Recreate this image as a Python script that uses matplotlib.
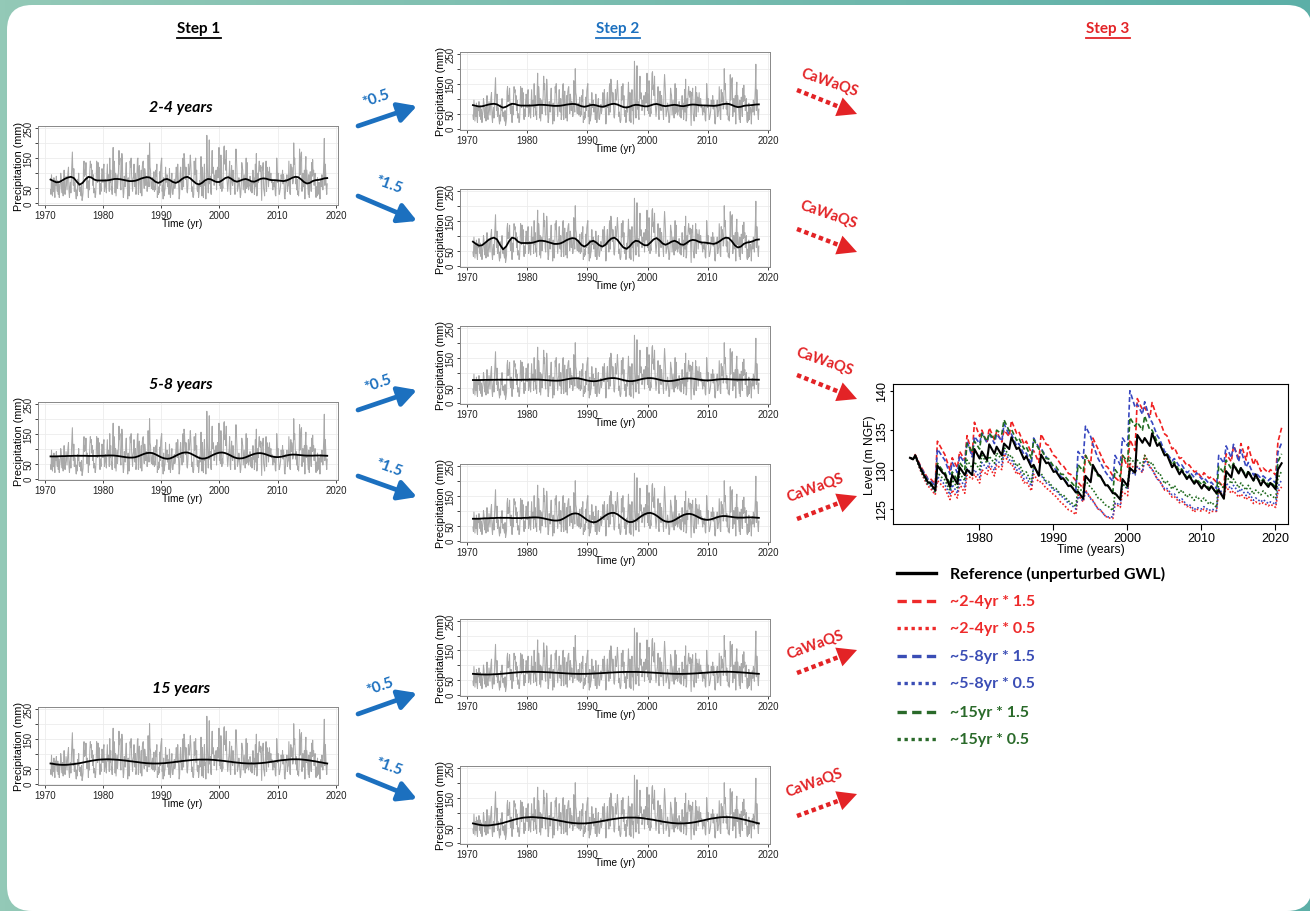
import numpy as np
import matplotlib
matplotlib.use("Agg")
import matplotlib.pyplot as plt
from matplotlib.patches import FancyBboxPatch
from matplotlib.colors import LinearSegmentedColormap

# ---- monthly precipitation (mm), Jan 1971 .. Jul 2018 ----
precip = [
    45, 30, 95, 60, 25, 70, 40, 85, 35, 20, 75, 60,
    90, 55, 40, 75, 30, 65, 20, 45, 60, 100, 85, 50,
    35, 70, 25, 60, 110, 40, 30, 55, 90, 65, 45, 80,
    105, 120, 40, 20, 55, 70, 35, 90, 130, 170, 95, 60,
    115, 40, 70, 55, 30, 15, 45, 25, 80, 60, 100, 45,
    40, 55, 35, 25, 60, 10, 20, 35, 125, 140, 90, 110,
    95, 135, 70, 50, 85, 60, 20, 75, 45, 110, 140, 120,
    130, 85, 110, 60, 95, 35, 50, 40, 20, 30, 75, 140,
    125, 70, 135, 80, 120, 45, 30, 65, 40, 90, 115, 105,
    70, 115, 130, 40, 55, 80, 60, 35, 85, 130, 75, 90,
    95, 40, 150, 70, 110, 45, 55, 30, 120, 185, 80, 140,
    115, 35, 100, 25, 60, 95, 50, 75, 110, 175, 130, 150,
    60, 45, 95, 165, 140, 50, 20, 35, 90, 70, 55, 110,
    135, 80, 75, 15, 85, 40, 25, 60, 140, 120, 150, 95,
    70, 40, 80, 90, 130, 60, 55, 100, 30, 45, 95, 145,
    150, 30, 100, 125, 85, 35, 40, 110, 25, 120, 135, 140,
    75, 50, 115, 100, 60, 90, 70, 40, 55, 160, 80, 55,
    200, 120, 110, 60, 50, 70, 85, 45, 60, 105, 40, 55,
    45, 110, 90, 130, 20, 40, 30, 55, 35, 105, 60, 125,
    140, 150, 40, 60, 15, 85, 25, 40, 50, 120, 70, 80,
    95, 55, 80, 70, 30, 115, 60, 20, 45, 80, 100, 35,
    30, 45, 70, 80, 50, 60, 90, 120, 100, 70, 130, 90,
    60, 15, 30, 95, 120, 70, 80, 45, 140, 150, 55, 165,
    150, 110, 80, 120, 95, 40, 35, 60, 130, 100, 95, 125,
    160, 130, 85, 40, 55, 25, 20, 30, 140, 95, 110, 150,
    70, 110, 45, 40, 60, 20, 35, 75, 55, 110, 155, 100,
    25, 120, 40, 20, 85, 130, 60, 70, 15, 80, 225, 130,
    70, 35, 95, 210, 65, 90, 40, 30, 130, 175, 100, 120,
    105, 60, 70, 95, 80, 110, 45, 90, 120, 85, 110, 185,
    60, 115, 50, 160, 110, 40, 65, 50, 120, 185, 190, 130,
    145, 110, 175, 95, 70, 40, 65, 85, 100, 140, 45, 30,
    90, 125, 70, 60, 110, 85, 70, 55, 30, 140, 180, 150,
    110, 40, 50, 60, 85, 70, 45, 20, 30, 65, 135, 120,
    110, 45, 70, 95, 60, 35, 80, 150, 50, 135, 55, 80,
    45, 55, 60, 90, 75, 40, 70, 35, 60, 110, 65, 85,
    30, 60, 130, 55, 165, 25, 35, 100, 70, 120, 140, 115,
    105, 125, 70, 10, 120, 110, 135, 50, 40, 25, 70, 95,
    140, 40, 120, 80, 105, 55, 85, 120, 75, 90, 100, 70,
    80, 65, 45, 70, 60, 55, 75, 30, 25, 70, 150, 115,
    70, 100, 60, 30, 35, 45, 60, 95, 85, 80, 110, 65,
    95, 75, 20, 15, 40, 80, 70, 95, 40, 55, 60, 140,
    90, 35, 30, 130, 90, 120, 105, 65, 75, 200, 130, 150,
    110, 65, 90, 45, 80, 30, 40, 25, 60, 180, 95, 140,
    165, 170, 40, 75, 100, 55, 60, 110, 15, 120, 155, 70,
    110, 85, 60, 30, 95, 20, 70, 105, 80, 40, 135, 90,
    145, 95, 110, 60, 85, 100, 30, 20, 55, 25, 85, 30,
    55, 70, 60, 15, 70, 80, 55, 95, 85, 45, 90, 140,
    215, 60, 130, 95, 50, 30, 65,
]

# ---- filtered components (mean + band), every half year 1971.0 .. 2018.5 ----
band_2_4 = [
    79, 74, 70, 71, 76, 82, 86, 88, 84, 72,
    62, 68, 80, 88, 86, 79, 76, 76, 76, 76,
    77, 79, 81, 81, 80, 78, 76, 74, 74, 75,
    78, 82, 85, 87, 86, 80, 72, 68, 72, 79,
    81, 77, 71, 68, 72, 80, 86, 88, 83, 74,
    66, 63, 68, 76, 81, 80, 75, 71, 71, 77,
    84, 87, 82, 75, 72, 75, 79, 81, 78, 73,
    72, 76, 81, 83, 82, 79, 77, 77, 76, 75,
    74, 76, 80, 85, 88, 87, 80, 71, 66, 68,
    74, 77, 78, 80, 83, 84,
]
band_5_8 = [
    74, 74, 74, 74.5, 75, 75, 75.5, 75.5, 76, 76,
    76, 76, 76, 75.5, 75.5, 75.5, 75.5, 76, 76, 76.5,
    77, 77, 76.5, 75.5, 74, 72.5, 71, 70, 70, 71,
    74, 78, 82, 85, 86, 85, 81, 76, 71, 67.5,
    66, 67, 71, 76, 81, 85, 87, 87, 84, 79,
    74, 69, 66.5, 67, 70, 75, 80, 84, 86.5, 87,
    85, 81, 76, 71, 68, 67, 68, 71, 75, 79,
    82.5, 84.5, 85, 83.5, 80.5, 77, 74, 72, 71.5, 72.5,
    74.5, 77, 79, 80, 80, 79, 78, 77, 76.5, 76.5,
    76.5, 77, 77, 77, 76.5, 76,
]
band_15 = [
    67, 65.5, 64, 63, 62.5, 62.5, 63, 64, 65, 66.5,
    68, 70, 72, 74, 76, 77.5, 79, 80, 80.5, 81,
    81, 80.5, 80, 79.5, 78.5, 77.5, 76.5, 75, 74, 72.5,
    71.5, 70, 69, 68, 67.5, 67, 67, 67, 67.5, 68,
    69, 70, 71, 72.5, 73.5, 75, 76, 77, 78, 79,
    79.5, 80, 80, 80, 80, 79.5, 79, 78, 77, 76,
    75, 73.5, 72.5, 71, 70, 69, 68, 67.5, 67, 67,
    67, 67.5, 68, 69, 70, 71.5, 73, 74.5, 76, 77.5,
    78.5, 79.5, 80.5, 81, 81, 81, 80.5, 79.5, 78.5, 77,
    75.5, 74, 72, 70.5, 68.5, 67,
]

# ---- groundwater level (m NGF): start, then (winter low, spring high) per year 1971..2020, end ----
gwl_years = list(range(1971, 2021))
gwl_ref = [131.5,
    131.3, 131.8, 130.2, 129.6, 128.4, 128.3, 127.4, 130.5, 129.6, 129.4,
    127.8, 129.3, 128.2, 130.3, 129.3, 130.0, 129.3, 132.6, 131.4, 132.3,
    131.2, 133.2, 132.0, 132.9, 131.8, 133.3, 132.6, 134.1, 132.6, 132.8,
    131.3, 131.7, 130.3, 130.6, 129.2, 131.9, 130.8, 130.9, 129.7, 129.8,
    128.8, 128.9, 127.9, 128.0, 127.1, 127.2, 126.3, 129.2, 128.4, 130.6,
    129.4, 129.2, 128.0, 128.0, 127.0, 127.0, 126.2, 128.8, 127.9, 130.2,
    129.6, 134.4, 133.4, 134.0, 133.0, 134.6, 133.0, 133.3, 131.8, 131.9,
    130.3, 130.7, 129.4, 129.9, 128.8, 129.2, 128.2, 128.6, 127.6, 128.1,
    127.4, 127.9, 127.0, 127.4, 126.3, 129.8, 129.0, 130.6, 129.5, 130.2,
    129.0, 129.7, 128.6, 129.4, 128.0, 128.6, 127.8, 128.3, 127.5, 130.0,
    130.8]
gwl_24_x15 = [131.5,
    131.3, 131.9, 130.5, 130.0, 128.9, 128.9, 128.2, 133.6, 132.4, 131.9,
    129.9, 131.5, 130.2, 132.3, 131.2, 134.3, 131.9, 136.0, 134.2, 135.0,
    133.4, 135.3, 133.8, 134.8, 133.5, 135.0, 134.2, 136.2, 134.6, 134.8,
    133.2, 133.6, 132.1, 132.4, 130.9, 134.5, 133.2, 133.1, 131.8, 131.6,
    130.6, 130.5, 129.5, 129.4, 128.6, 128.4, 127.6, 131.8, 130.7, 134.0,
    132.6, 132.0, 130.5, 130.3, 129.2, 129.0, 128.4, 131.8, 130.3, 133.8,
    132.4, 139.0, 137.6, 137.9, 136.6, 138.5, 136.5, 136.3, 134.5, 134.3,
    132.6, 132.8, 131.4, 131.5, 130.5, 130.6, 129.7, 129.8, 129.0, 129.6,
    128.9, 129.1, 128.4, 128.5, 127.7, 132.0, 131.0, 133.0, 131.5, 133.3,
    131.2, 132.9, 130.6, 131.4, 129.8, 130.2, 129.6, 130.0, 129.3, 133.5,
    135.3]
gwl_24_x05 = [131.5,
    131.3, 131.7, 129.9, 129.2, 127.9, 127.7, 126.8, 128.6, 127.9, 127.6,
    126.2, 127.4, 126.4, 128.2, 127.0, 129.3, 128.8, 129.4, 128.3, 130.0,
    129.3, 130.4, 129.2, 130.6, 130.0, 132.0, 130.7, 130.8, 129.4, 129.7,
    128.3, 128.5, 127.3, 129.4, 128.4, 128.5, 127.6, 127.5, 126.8, 126.6,
    125.8, 125.6, 124.9, 124.8, 124.3, 126.8, 125.9, 127.4, 126.4, 126.1,
    125.0, 124.9, 124.1, 123.9, 123.8, 125.7, 125.2, 127.2, 126.7, 130.8,
    130.0, 130.4, 129.6, 131.8, 130.3, 130.1, 128.8, 128.6, 127.4, 127.4,
    126.5, 126.6, 125.8, 126.0, 125.3, 125.4, 124.6, 125.0, 124.7, 125.0,
    124.5, 124.7, 124.7, 127.4, 126.5, 127.8, 127.0, 127.3, 126.5, 126.9,
    126.2, 126.6, 125.7, 125.9, 125.6, 125.8, 125.4, 125.6, 125.2, 127.2,
    127.8]
gwl_58_x15 = [131.5,
    131.3, 131.8, 130.4, 129.9, 128.8, 128.7, 127.9, 132.6, 131.6, 131.2,
    129.4, 130.9, 129.6, 131.8, 130.8, 133.6, 131.6, 134.2, 133.3, 134.6,
    133.4, 134.6, 133.3, 134.5, 133.6, 135.8, 134.4, 134.5, 133.0, 133.3,
    131.9, 132.1, 130.7, 134.0, 132.8, 132.7, 131.6, 131.3, 130.2, 130.0,
    129.1, 128.9, 128.1, 127.9, 127.3, 132.3, 131.4, 135.5, 134.2, 133.2,
    131.4, 130.9, 129.7, 129.3, 128.5, 131.8, 130.6, 134.0, 133.0, 140.0,
    137.9, 138.3, 137.0, 138.6, 136.4, 136.0, 134.3, 133.9, 132.3, 132.1,
    131.1, 131.4, 130.4, 130.6, 129.6, 129.8, 129.0, 129.6, 128.8, 129.0,
    128.2, 128.4, 127.6, 131.8, 130.8, 133.0, 131.5, 133.2, 131.0, 132.5,
    130.3, 130.9, 129.3, 129.6, 128.9, 129.2, 128.6, 128.9, 128.3, 132.2,
    133.4]
gwl_58_x05 = [131.5,
    131.3, 131.7, 130.0, 129.4, 128.1, 128.0, 127.1, 129.1, 128.4, 128.1,
    126.8, 128.1, 127.0, 128.9, 127.8, 130.1, 129.5, 130.0, 129.0, 130.9,
    130.1, 130.8, 129.9, 131.2, 130.6, 132.4, 131.2, 131.3, 129.9, 130.2,
    128.8, 129.0, 127.9, 130.4, 129.3, 129.3, 128.3, 128.2, 127.4, 127.4,
    126.6, 126.5, 125.7, 125.6, 125.0, 126.6, 126.0, 127.3, 126.3, 126.0,
    125.0, 124.9, 124.1, 124.0, 124.0, 125.8, 125.5, 128.2, 127.5, 129.9,
    129.3, 130.4, 129.7, 131.2, 130.3, 130.0, 128.8, 128.6, 127.5, 127.6,
    126.8, 126.9, 126.1, 126.3, 125.5, 125.6, 124.9, 125.2, 125.0, 125.3,
    124.8, 125.0, 124.8, 127.6, 126.8, 128.3, 127.5, 128.0, 127.1, 127.6,
    126.7, 127.2, 126.1, 126.4, 125.9, 126.2, 125.7, 125.9, 125.6, 127.8,
    128.7]
gwl_15_x15 = [131.5,
    131.3, 131.8, 130.2, 129.7, 128.5, 128.4, 127.6, 130.8, 129.9, 129.7,
    128.1, 129.7, 128.7, 130.9, 130.0, 133.3, 132.2, 133.6, 132.6, 134.6,
    133.6, 134.6, 133.8, 135.0, 134.5, 136.3, 134.9, 135.1, 133.7, 134.0,
    132.6, 132.9, 131.4, 133.8, 132.6, 132.6, 131.4, 131.4, 130.4, 130.4,
    129.4, 129.4, 128.6, 128.5, 127.7, 130.6, 129.8, 131.8, 130.6, 130.4,
    129.2, 129.1, 128.1, 128.0, 127.2, 130.0, 129.1, 131.8, 131.0, 136.6,
    135.5, 136.0, 135.0, 136.8, 135.0, 135.0, 133.5, 133.4, 131.8, 132.0,
    130.6, 131.0, 129.8, 130.1, 129.0, 129.4, 128.4, 128.8, 128.1, 128.5,
    127.6, 127.9, 126.9, 130.4, 129.6, 131.2, 130.1, 130.8, 129.6, 130.3,
    129.2, 129.9, 128.6, 129.1, 128.4, 128.8, 128.1, 128.4, 127.8, 131.0,
    132.0]
gwl_15_x05 = [131.5,
    131.3, 131.7, 130.0, 129.4, 128.2, 128.1, 127.2, 129.6, 128.9, 128.7,
    127.3, 128.7, 127.7, 129.5, 128.6, 131.2, 130.2, 131.0, 130.0, 131.8,
    130.8, 131.7, 130.8, 132.1, 131.3, 132.9, 131.6, 131.8, 130.4, 130.8,
    129.4, 129.7, 128.4, 130.4, 129.4, 129.5, 128.5, 128.5, 127.6, 127.6,
    126.8, 126.8, 126.0, 125.9, 125.3, 127.8, 127.1, 128.6, 127.7, 127.5,
    126.4, 126.3, 125.5, 125.4, 124.8, 127.0, 126.3, 128.2, 127.6, 131.5,
    130.8, 131.2, 130.5, 131.8, 130.7, 130.9, 129.5, 129.6, 128.2, 128.6,
    127.5, 128.0, 127.0, 127.4, 126.5, 126.9, 126.1, 126.6, 126.0, 126.4,
    125.6, 125.9, 125.2, 128.4, 127.6, 129.2, 128.2, 128.8, 127.7, 128.3,
    127.4, 128.0, 126.9, 127.4, 126.8, 127.3, 126.6, 126.8, 126.3, 128.9,
    129.8]

legend_labels = ["Reference (unperturbed GWL)", "~2-4yr * 1.5", "~2-4yr * 0.5",
                 "~5-8yr * 1.5", "~5-8yr * 0.5", "~15yr * 1.5", "~15yr * 0.5"]
band_titles = ["2-4 years", "5-8 years", "15 years"]
factors = [0.5, 1.5]

# ---- time axes ----
t_month = 1971 + np.arange(len(precip)) / 12.0
t_half = 1971 + np.arange(len(band_2_4)) * 0.5
t_gwl = [1970.7]
for y in gwl_years:
    t_gwl += [y + 0.1, y + 0.4]
t_gwl.append(2020.9)

W, H = 1310, 912
BLUE = "#1c70bf"
RED = "#e32326"
FONT = "Lato"
AX_FONT = "Liberation Sans"

fig = plt.figure(figsize=(W / 100, H / 100), dpi=100)


def px_axes(x0, y0, x1, y1, **kw):
    return fig.add_axes([x0 / W, 1 - y1 / H, (x1 - x0) / W, (y1 - y0) / H], **kw)


# background frame
bg = px_axes(0, 0, W, H, zorder=-5)
grad = np.linspace(0, 1, 256).reshape(1, -1)
cmap = LinearSegmentedColormap.from_list("frame", ["#93c9b7", "#5cafa7"])
bg.imshow(grad, aspect="auto", cmap=cmap, extent=[0, W, H, 0])
bg.add_patch(FancyBboxPatch((7, 6), 1305, 906, boxstyle="round,pad=0,rounding_size=25",
                            fc="white", ec="none"))
bg.set_xlim(0, W)
bg.set_ylim(H, 0)
bg.axis("off")


def precip_panel(box, smooth, label_x=0.5):
    x0, y0, x1, y1 = box
    ax = px_axes(x0, y0, x1, y1)
    ax.plot(t_month, precip, color="#a9a9a9", lw=0.75)
    ax.plot(t_half, smooth, color="black", lw=1.3)
    ax.set_xlim(1968.85, 2020.35)
    ax.set_ylim(-5, 256)
    ax.set_xticks([1970, 1980, 1990, 2000, 2010, 2020])
    ax.set_yticks([0, 50, 100, 150, 200, 250])
    ax.set_yticklabels(["0", "50", "", "150", "", "250"], rotation=90, va="center")
    ax.grid(color="#ececec", lw=0.6)
    ax.set_axisbelow(True)
    ax.tick_params(length=2.5, width=0.6, pad=1, labelsize=7, colors="#222")
    for lab in ax.get_xticklabels() + ax.get_yticklabels():
        lab.set_family(AX_FONT)
    for s in ax.spines.values():
        s.set_color("#888")
        s.set_linewidth(0.7)
    ax.set_ylabel("Precipitation (mm)", fontsize=7.8, family=AX_FONT)
    ax.yaxis.set_label_coords(-14 / (x1 - x0), 0.5)
    ax.set_xlabel("Time (yr)", fontsize=7.3, family=AX_FONT)
    ax.xaxis.set_label_coords(label_x, -13 / (y1 - y0))
    return ax


bands = [band_2_4, band_5_8, band_15]
step1_boxes = [(38, 127, 338, 206), (38, 403, 338, 481), (38, 708, 338, 786)]
step2_boxes = [(460, 53, 770, 131), (460, 190, 770, 268), (460, 327, 770, 405),
               (460, 465, 770, 543), (460, 620, 770, 697), (460, 767, 770, 845)]

for i, band in enumerate(bands):
    precip_panel(step1_boxes[i], band, label_x=0.48)
    m = np.mean(band)
    for j, k in enumerate(factors):
        precip_panel(step2_boxes[2 * i + j], m + k * (np.array(band) - m))

# ---- step 3: groundwater level ----
g = px_axes(893, 385, 1288, 525)
gwl_series = [gwl_ref, gwl_24_x15, gwl_24_x05, gwl_58_x15, gwl_58_x05, gwl_15_x15, gwl_15_x05]
line_cols = ["black", "#f02020", "#f02020", "#3848c0", "#3848c0", "#1f6b1f", "#1f6b1f"]
dashed = (0, (3, 1.6))
dotted = (0, (1, 1.2))
styles = ["-", dashed, dotted, dashed, dotted, dashed, dotted]
for idx in [1, 2, 3, 4, 5, 6, 0]:
    g.plot(t_gwl, gwl_series[idx], color=line_cols[idx], ls=styles[idx],
           lw=1.5 if idx == 0 else 1.2)
g.set_xlim(1968.4, 2021.76)
g.set_ylim(123.1, 140.85)
g.set_xticks([1980, 1990, 2000, 2010, 2020])
g.set_yticks([125, 130, 135, 140])
g.tick_params(axis="x", length=4, width=0.8, pad=2, labelsize=9)
g.tick_params(axis="y", length=2.5, width=0.8, pad=0.8, labelsize=9)
for lab in g.get_yticklabels():
    lab.set_rotation(90)
    lab.set_va("center")
for lab in g.get_xticklabels() + g.get_yticklabels():
    lab.set_family(AX_FONT)
for s in g.spines.values():
    s.set_linewidth(0.8)
g.set_ylabel("Level (m NGF)", fontsize=8.7, family=AX_FONT)
g.yaxis.set_label_coords(-16.5 / 395, 0.5)
g.set_xlabel("Time (years)", fontsize=8.7, family=AX_FONT)
g.xaxis.set_label_coords(0.5, -19 / 140)

# ---- overlay: headings, arrows, legend ----
ov = px_axes(0, 0, W, H, zorder=10)
ov.set_xlim(0, W)
ov.set_ylim(H, 0)
ov.axis("off")
ov.patch.set_alpha(0)

renderer = fig.canvas.get_renderer()
for txt, x, col in [("Step 1", 199, "black"), ("Step 2", 618, BLUE), ("Step 3", 1108, RED)]:
    t = ov.text(x, 29, txt, ha="center", va="center", fontsize=11, fontweight="bold",
                family=FONT, color=col)
    bb = t.get_window_extent(renderer)
    ov.plot([bb.x0, bb.x1], [38.5, 38.5], color=col, lw=1.3)

for txt, y in zip(band_titles, [108, 385, 689]):
    ov.text(181, y, txt, ha="center", va="center", fontsize=11.5, fontweight="bold",
            style="italic", family=FONT)


def blue_arrow(p0, p1):
    ov.annotate("", xy=p1, xytext=p0,
                arrowprops=dict(arrowstyle="-|>,head_length=0.55,head_width=0.3", lw=3.4,
                                color=BLUE, shrinkA=0, shrinkB=0, mutation_scale=20))


def red_arrow(p0, p1):
    p0, p1 = np.array(p0, float), np.array(p1, float)
    d = (p1 - p0) / np.hypot(*(p1 - p0))
    pe = p1 - d * 13
    ov.plot([p0[0], pe[0]], [p0[1], pe[1]], color=RED, lw=3.2, ls=(0, (1.0, 0.75)),
            dash_capstyle="butt")
    ov.annotate("", xy=tuple(p1), xytext=tuple(pe - d * 2),
                arrowprops=dict(arrowstyle="-|>,head_length=0.7,head_width=0.36", lw=0,
                                color=RED, shrinkA=0, shrinkB=0, mutation_scale=20))


# blue scaling arrows (start, end, label position)
up_arrows = [((358, 127), (417, 107), (376, 99)), ((358, 411), (417, 391), (378, 384)),
             ((358, 715), (417, 694), (380, 687))]
down_arrows = [((358, 197), (417, 222), (389, 185)), ((358, 477), (417, 498), (389, 468)),
               ((358, 776), (417, 800), (389, 767))]
for p0, p1, lp in up_arrows:
    blue_arrow(p0, p1)
    ov.text(*lp, "*0.5", ha="center", va="center", fontsize=11, fontweight="bold",
            family=FONT, color=BLUE, rotation=19)
for p0, p1, lp in down_arrows:
    blue_arrow(p0, p1)
    ov.text(*lp, "*1.5", ha="center", va="center", fontsize=11, fontweight="bold",
            family=FONT, color=BLUE, rotation=-20)

# red model arrows
model_arrows = [((797, 91), (857, 115), (830, 83), -19), ((797, 230), (857, 253), (829, 215), -19),
                ((797, 376), (857, 400), (825, 362), -19), ((797, 520), (857, 497), (815, 488), 20),
                ((797, 674), (857, 651), (815, 645), 20), ((797, 817), (857, 795), (814, 783), 20)]
for p0, p1, lp, ang in model_arrows:
    red_arrow(p0, p1)
    ov.text(*lp, "CaWaQS", ha="center", va="center", fontsize=10.5, fontweight="bold",
            family=FONT, color=RED, rotation=ang)

# legend for step 3
leg_cols = ["black", "#ee2a2a", "#ee2a2a", "#3a4db5", "#3a4db5", "#2a6a2a", "#2a6a2a"]
leg_styles = ["-", (0, (2.8, 1.6)), (0, (1, 1.1)), (0, (2.8, 1.6)), (0, (1, 1.1)),
              (0, (2.8, 1.6)), (0, (1, 1.1))]
leg_y = [574, 602, 629, 657, 684, 713, 740]
for lab, col, ls, y in zip(legend_labels, leg_cols, leg_styles, leg_y):
    ov.plot([897, 936], [y, y], color=col, ls=ls, lw=2.4, dash_capstyle="butt")
    ov.text(950, y, lab, ha="left", va="center", fontsize=11.5, fontweight="bold",
            family=FONT, color=col)

fig.savefig("out.png", dpi=100)
